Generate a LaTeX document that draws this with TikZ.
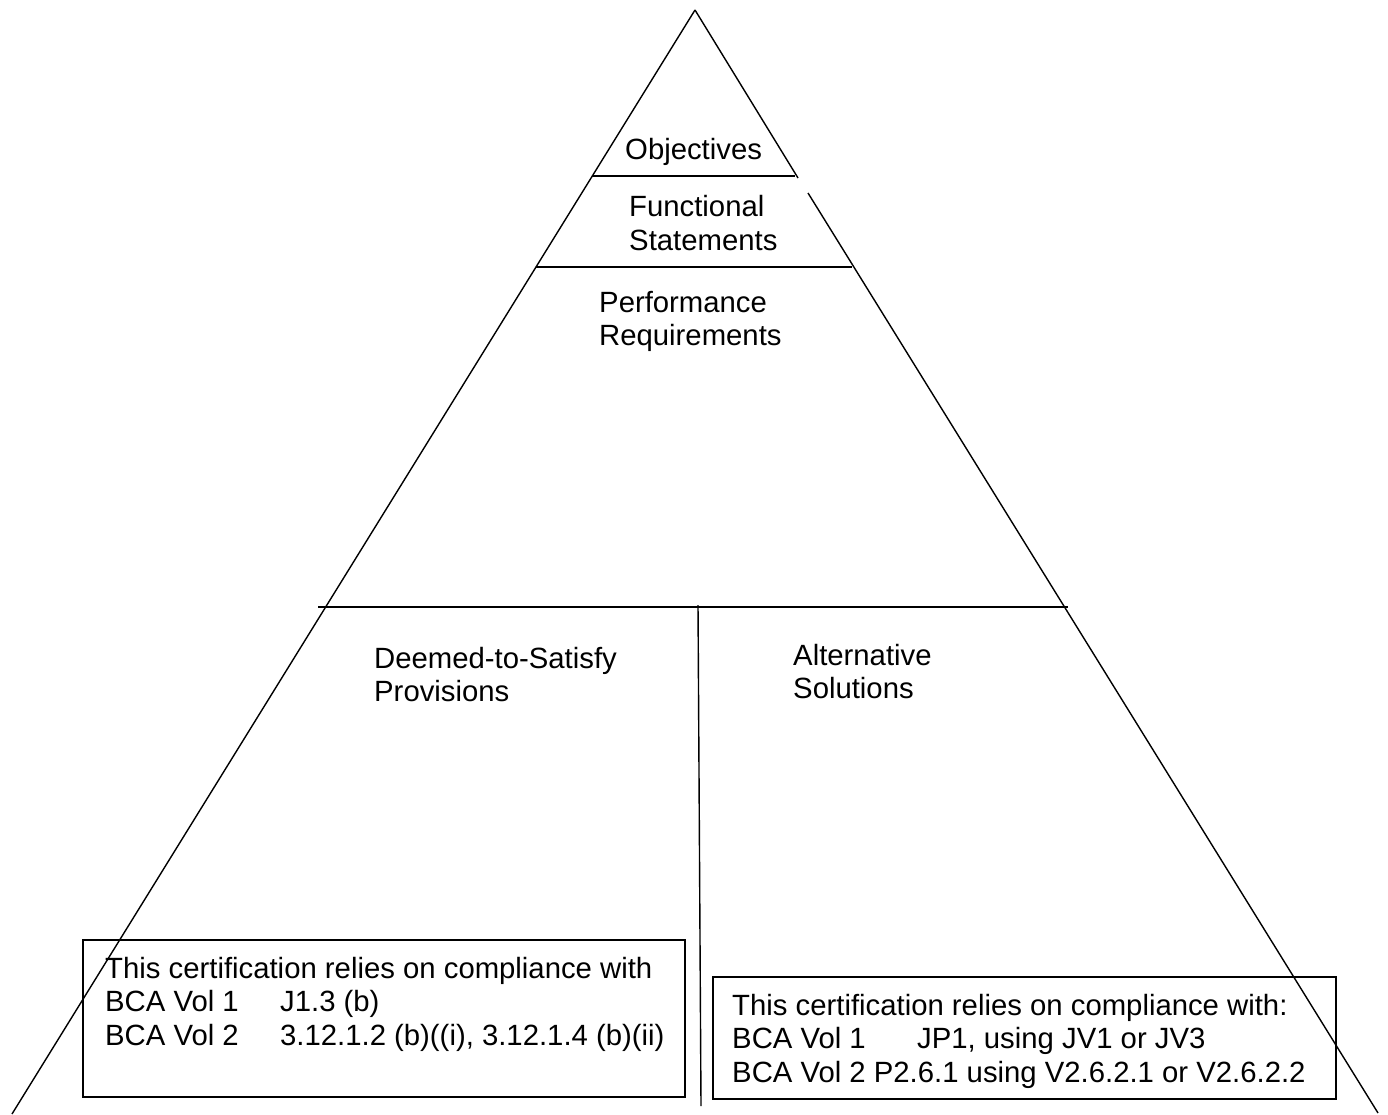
\documentclass[tikz,border=0pt]{standalone}
\usepackage{fontspec}
\setmainfont{Liberation Sans}
\newcommand\lbfont{\fontsize{29.3}{33.6}\selectfont}
\begin{document}
\begin{tikzpicture}[x=1pt,y=-1pt,
  edge/.style={line width=1.4pt},
  divider/.style={line width=2.4pt},
  lbl/.style={anchor=base west, inner sep=0pt, font=\lbfont},
  box/.style={draw, line width=1.5pt, inner sep=0pt}]
\useasboundingbox (0,0) rectangle (1388,1115);
% key points
\coordinate (apex) at (695,10);
\coordinate (lbot) at (12,1114);
\coordinate (trA) at (798,178);
\coordinate (rtop) at (808,193);
\coordinate (rbot) at (1378,1113);
\coordinate (objL) at (592,176);
\coordinate (objR) at (795,176);
\coordinate (funL) at (536,267);
\coordinate (funR) at (852,267);
\coordinate (midL) at (318,607);
\coordinate (midR) at (1068,607);
\coordinate (vtop) at (698,605);
\coordinate (vbot) at (701,1106);
% outline
\draw[edge] (apex) -- (lbot);
\draw[edge] (apex) -- (trA);
\draw[edge] (rtop) -- (rbot);
\draw[edge] (objL) -- (objR);
\draw[edge] (funL) -- (funR);
\draw[divider] (midL) -- (midR);
\draw[edge] (vtop) -- (vbot);
% labels
\node[lbl] (obj) at (625,160) {Objectives};
\node[lbl] (func) at (629,217) {\begin{tabular}[t]{@{}l@{}}Functional\\Statements\end{tabular}};
\node[lbl] (perf) at (599,312) {\begin{tabular}[t]{@{}l@{}}Performance\\Requirements\end{tabular}};
\node[lbl] (dts) at (374,668) {\begin{tabular}[t]{@{}l@{}}Deemed-to-Satisfy\\Provisions\end{tabular}};
\node[lbl] (alt) at (793,665) {\begin{tabular}[t]{@{}l@{}}Alternative\\Solutions\end{tabular}};
% boxes
\node[box, minimum width=602pt, minimum height=157pt] (lbox) at (384,1018.5) {};
\node[box, minimum width=623pt, minimum height=122pt] (rbox) at (1024.5,1038) {};
\node[lbl] (ltxt) at (105,978) {\begin{tabular}[t]{@{}l@{}}This certification relies on compliance with\\
\makebox[175pt][l]{BCA Vol 1}J1.3 (b)\\
\makebox[175pt][l]{BCA Vol 2}3.12.1.2 (b)((i), 3.12.1.4 (b)(ii)\end{tabular}};
\node[lbl] (rtxt) at (732,1015) {\begin{tabular}[t]{@{}l@{}}This certification relies on compliance with:\\
\makebox[185pt][l]{BCA Vol 1}JP1, using JV1 or JV3\\
BCA Vol 2 P2.6.1 using V2.6.2.1 or V2.6.2.2\end{tabular}};
\end{tikzpicture}
\end{document}
